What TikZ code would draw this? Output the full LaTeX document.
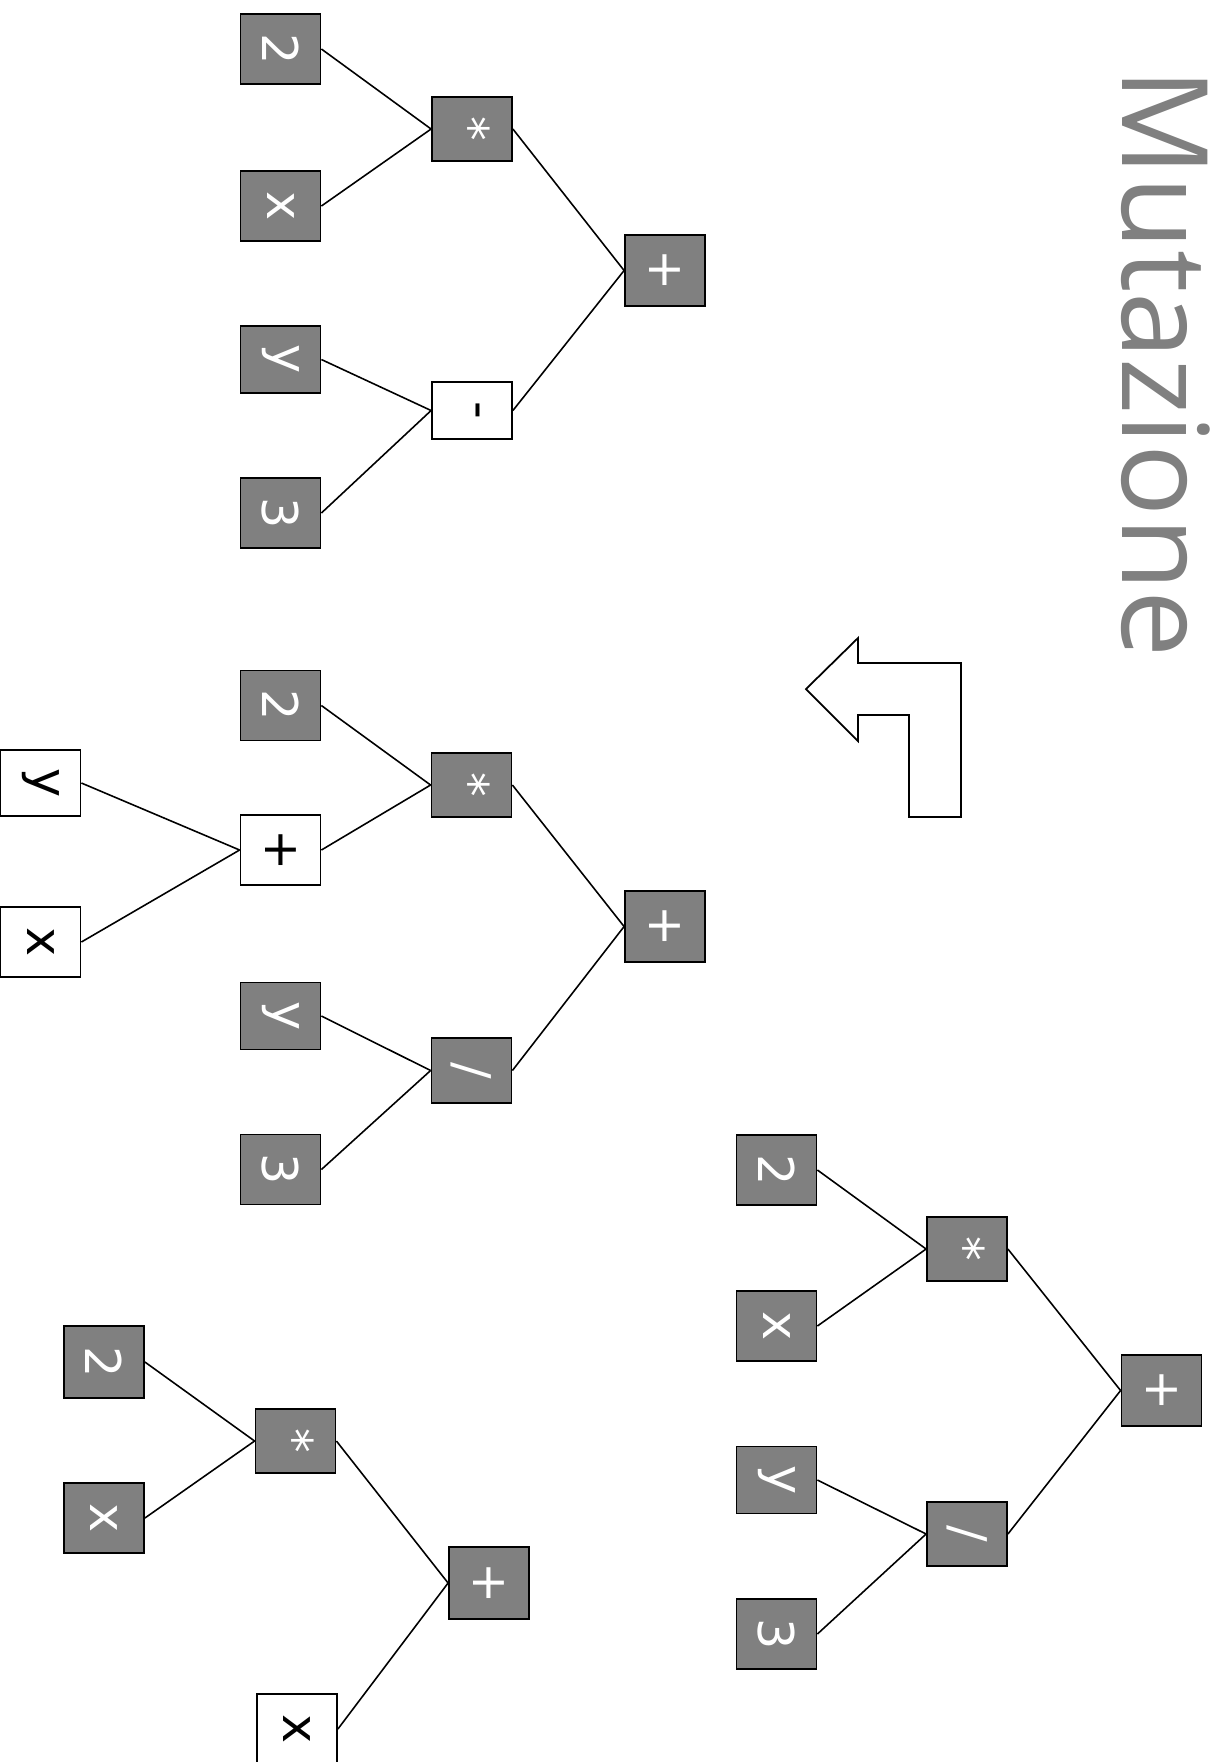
\documentclass[tikz,border=0pt]{standalone}
\usepackage{graphicx}
\usepackage{fontspec}
\setmainfont{DejaVu Sans}
\newfontfamily\titolofont{Open Sans}
\definecolor{grigio}{HTML}{808080}
\newcommand{\R}[1]{\rotatebox{-90}{#1}}
\tikzset{
  nodo/.style={draw=black,fill=grigio,text=white,line width=0.5pt,minimum width=0.8cm,minimum height=0.7cm,inner sep=0pt,font=\fontsize{14}{16}\selectfont},
  nuovo/.style={nodo,fill=white,text=black},
  op/.style={nodo,minimum height=0.64cm},
  arco/.style={black,line width=0.45pt},
  freccia/.style={draw=black,fill=white,line width=0.5pt},
}
\begin{document}
\begin{tikzpicture}[x=0.01cm,y=-0.01cm]
  \useasboundingbox (0,0) rectangle (1210,1762);
  % albero originale
  \node[nodo] (a2) at (280.5,49) {\R{2}};
  \node[nodo] (ax) at (280.5,206) {\R{x}};
  \node[nodo,minimum height=0.67cm] (ay) at (280.5,359.5) {\R{y}};
  \node[nodo] (a3) at (280.5,513) {\R{3}};
  \node[op] (amul) at (472,129) {\R{*}};
  \node[nuovo,minimum height=0.57cm] (amin) at (472,410.5) {\R{-}};
  \node[nodo,minimum height=0.71cm] (aplus) at (665,270.5) {\R{+}};
  \draw[arco] (a2.east) -- (amul.west);
  \draw[arco] (ax.east) -- (amul.west);
  \draw[arco] (ay.east) -- (amin.west);
  \draw[arco] (a3.east) -- (amin.west);
  \draw[arco] (amul.east) -- (aplus.west);
  \draw[arco] (amin.east) -- (aplus.west);
  % albero mutato
  \node[nodo] (b2) at (280.5,705.5) {\R{2}};
  \node[nuovo] (bplusn) at (280.5,850) {\R{+}};
  \node[nuovo,minimum height=0.66cm] (byn) at (40.5,783) {\R{y}};
  \node[nuovo] (bxn) at (40.5,942) {\R{x}};
  \node[nodo,minimum height=0.67cm] (by) at (280.5,1016) {\R{y}};
  \node[nodo] (b3) at (280.5,1169.5) {\R{3}};
  \node[op] (bmul) at (471.5,785) {\R{*}};
  \node[op,minimum height=0.65cm] (bdiv) at (471.5,1070.5) {\R{/}};
  \node[nodo,minimum height=0.71cm] (bplus) at (665,926.5) {\R{+}};
  \draw[arco] (byn.east) -- (bplusn.west);
  \draw[arco] (bxn.east) -- (bplusn.west);
  \draw[arco] (b2.east) -- (bmul.west);
  \draw[arco] (bplusn.east) -- (bmul.west);
  \draw[arco] (by.east) -- (bdiv.west);
  \draw[arco] (b3.east) -- (bdiv.west);
  \draw[arco] (bmul.east) -- (bplus.west);
  \draw[arco] (bdiv.east) -- (bplus.west);
  % albero in basso a sinistra
  \node[nodo,minimum height=0.72cm] (c2) at (104,1362) {\R{2}};
  \node[nodo] (cx) at (104,1518) {\R{x}};
  \node[op] (cmul) at (295.5,1441) {\R{*}};
  \node[nodo,minimum height=0.72cm] (cplus) at (489,1583) {\R{+}};
  \node[nuovo] (cxn) at (297,1729) {\R{x}};
  \draw[arco] (c2.east) -- (cmul.west);
  \draw[arco] (cx.east) -- (cmul.west);
  \draw[arco] (cmul.east) -- (cplus.west);
  \draw[arco] (cxn.east) -- (cplus.west);
  % albero in basso a destra
  \node[nodo] (d2) at (776.5,1170) {\R{2}};
  \node[nodo] (dx) at (776.5,1326) {\R{x}};
  \node[nodo,minimum height=0.67cm] (dy) at (776.5,1480) {\R{y}};
  \node[nodo] (d3) at (776.5,1634) {\R{3}};
  \node[op] (dmul) at (967,1249) {\R{*}};
  \node[op] (ddiv) at (967,1534) {\R{/}};
  \node[nodo,minimum height=0.71cm] (dplus) at (1161.5,1390.5) {\R{+}};
  \draw[arco] (d2.east) -- (dmul.west);
  \draw[arco] (dx.east) -- (dmul.west);
  \draw[arco] (dy.east) -- (ddiv.west);
  \draw[arco] (d3.east) -- (ddiv.west);
  \draw[arco] (dmul.east) -- (dplus.west);
  \draw[arco] (ddiv.east) -- (dplus.west);
  % freccia e titolo
  \draw[freccia] (806,689) -- (858,638) -- (858,663) -- (961,663) -- (961,817)
    -- (909,817) -- (909,715) -- (858,715) -- (858,741) -- cycle;
  \node[rotate=-90,anchor=base west,inner sep=0pt,text=grigio,
    font=\titolofont\fontsize{34}{40}\selectfont] (titolo) at (1122,68) {Mutazione};
\end{tikzpicture}
\end{document}
